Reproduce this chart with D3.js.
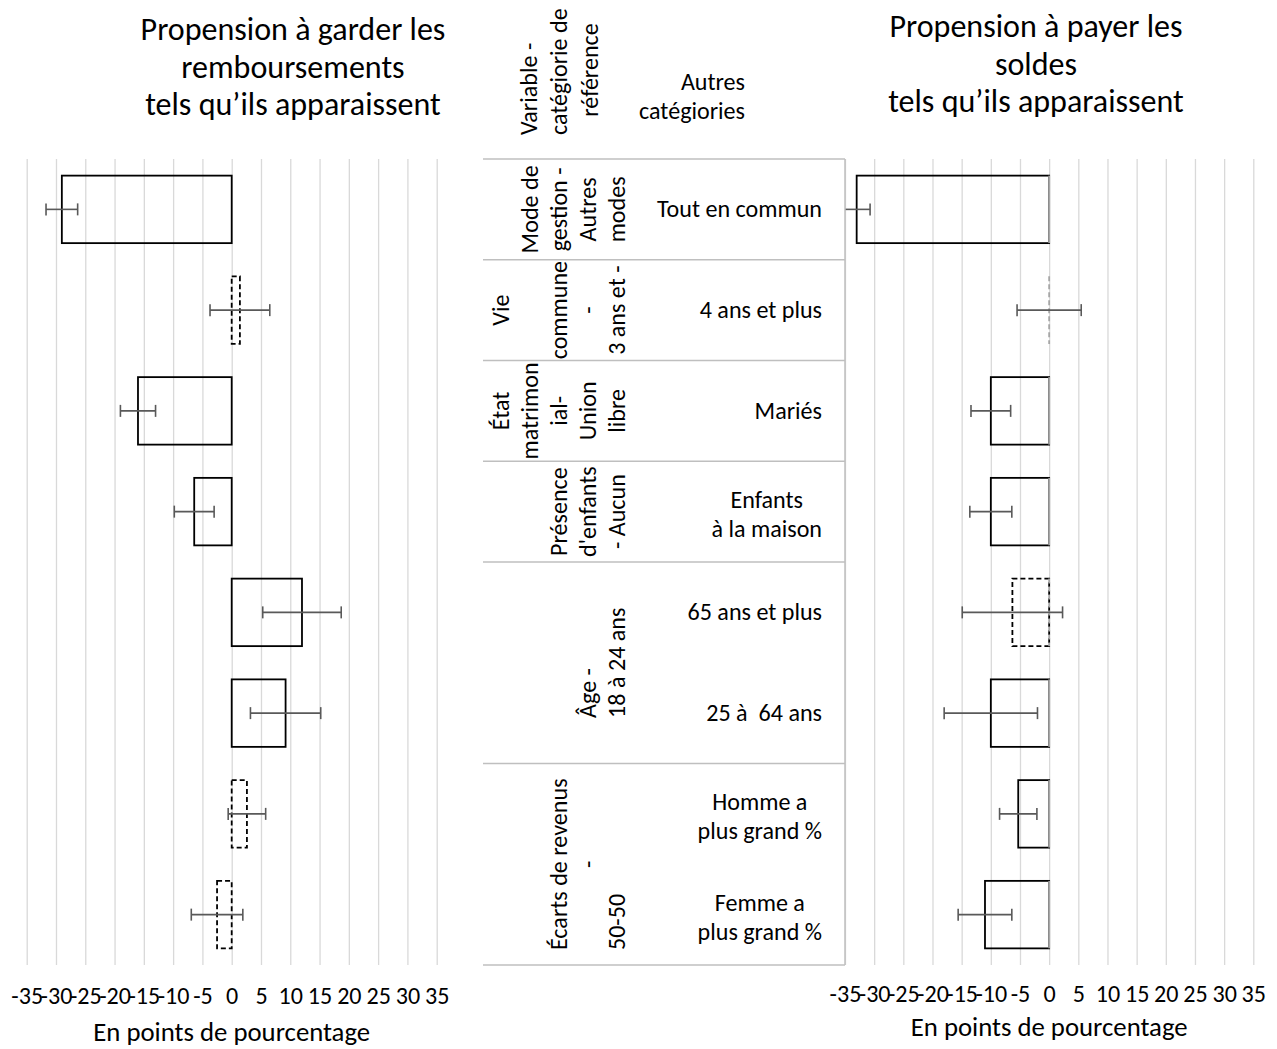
<!DOCTYPE html>
<html>
<head>
<meta charset="utf-8">
<script src="https://cdn.jsdelivr.net/npm/d3@7"></script>
<style>
body { margin: 0; background: #fff; }
text { fill: #000; white-space: pre; }
.grid line { stroke: #d9d9d9; stroke-width: 1.3px; }
.err { stroke: #595959; stroke-width: 1.6px; fill: none; }
.tbl { stroke: #bfbfbf; stroke-width: 1.5px; }
</style>
</head>
<body>
<script>
// data (points de pourcentage)
var rows = ["Tout en commun", "4 ans et plus", "Mariés", "Enfants\nà la maison",
            "65 ans et plus", "25 à  64 ans", "Homme a\nplus grand %", "Femme a\nplus grand %"];
var keepVal = [-29.0, 1.4, -16.0, -6.4, 12.0, 9.2, 2.6, -2.5];
var keepErr = [2.7, 5.1, 3.0, 3.4, 6.7, 6.0, 3.2, 4.4];
var keepSig = [true, false, true, true, true, true, false, false];
var payVal = [-33.0, 0.0, -10.0, -10.0, -6.3, -10.0, -5.3, -11.0];
var payErr = [2.3, 5.5, 3.4, 3.6, 8.6, 8.0, 3.2, 4.6];
var paySig = [true, false, true, true, false, true, true, true];
var ticks = [-35, -30, -25, -20, -15, -10, -5, 0, 5, 10, 15, 20, 25, 30, 35];

// reference variable groups (rotated text in first table column)
var groups = [
  {start: 0, span: 1, lines: ["Mode de", "gestion -", "Autres", "modes"]},
  {start: 1, span: 1, lines: ["Vie", "", "commune", "-", "3 ans et -"]},
  {start: 2, span: 1, lines: ["État", "matrimon", "ial-", "Union", "libre"]},
  {start: 3, span: 1, lines: ["Présence", "d'enfants", "- Aucun"]},
  {start: 4, span: 2, lines: ["Âge -", "18 à 24 ans"], align: ["start", "start"]},
  {start: 6, span: 2, lines: ["Écarts de revenus", "-", "50-50"], align: ["middle", "middle", "start"]}
];
var titleKeep = ["Propension à garder les", "remboursements", "tels qu’ils apparaissent"];
var titlePay = ["Propension à payer les", "soldes", "tels qu’ils apparaissent"];
var headVar = ["Variable -", "catégiorie de", "référence"];
var headCat = ["Autres", "catégiories"];
var axisTitle = "En points de pourcentage";

var W = 1277, H = 1049;
var FONT = "Carlito, Calibri, Lato, 'Noto Sans', sans-serif";
var svg = d3.select("body").append("svg").attr("width", W).attr("height", H)
    .style("font-family", FONT);

function fit(str, target) {
  var t = svg.append("text").style("font-size", "100px").text(str);
  var w = t.node().getComputedTextLength();
  t.remove();
  return 100 * target / w;
}
var fsBody = fit("Tout en commun", 165);
var fsTitle = fit("Propension à garder les", 305);
var fsAxis = fit(axisTitle, 277);
var lh = 29;

var yTop = 159, yBot = 965;
var y = d3.scaleBand().domain(d3.range(rows.length)).range([yTop, yBot])
    .paddingInner(0.33).paddingOuter(0.165);

function panel(x, vals, errs, sig, title, titlePos, tickY, axisY, zeroGray) {
  var g = svg.append("g");
  g.append("g").attr("class", "grid")
    .attr("transform", "translate(0," + yBot + ")")
    .call(d3.axisBottom(x).tickValues(ticks).tickSize(-(yBot - yTop)).tickFormat(""))
    .call(function(s) { s.select(".domain").remove(); });

  var lab = g.append("g").attr("transform", "translate(0," + yBot + ")")
    .call(d3.axisBottom(x).tickValues(ticks).tickSize(0).tickFormat(function(d) { return String(d); }));
  lab.select(".domain").remove();
  lab.selectAll("text").attr("y", tickY - yBot).attr("dy", null)
    .style("font-size", fsBody + "px").style("font-family", FONT).attr("fill", "#000");

  var x0 = x(0);
  g.append("g").selectAll("rect").data(vals).enter().append("rect")
    .attr("x", function(d) { return Math.min(x(d), x0); })
    .attr("width", function(d) { return Math.abs(x(d) - x0); })
    .attr("y", function(d, i) { return y(i); })
    .attr("height", y.bandwidth())
    .attr("fill", "none").attr("stroke", "#000").attr("stroke-width", 1.8)
    .attr("stroke-dasharray", function(d, i) { return sig[i] ? null : "5,3"; });

  if (zeroGray) {
    g.append("g").selectAll("line").data(vals).enter().append("line")
      .attr("x1", x0).attr("x2", x0)
      .attr("y1", function(d, i) { return y(i); })
      .attr("y2", function(d, i) { return y(i) + y.bandwidth(); })
      .attr("stroke", "#a6a6a6").attr("stroke-width", 1.8)
      .attr("stroke-dasharray", function(d, i) { return sig[i] ? null : "5,3"; });
  }

  var lo = x.domain()[0], hi = x.domain()[1];
  var eg = g.append("g").selectAll("g").data(vals).enter().append("g").attr("class", "err");
  eg.each(function(d, i) {
    var s = d3.select(this), cy = y(i) + y.bandwidth() / 2;
    var a = d - errs[i], b = d + errs[i];
    var ac = Math.max(a, lo), bc = Math.min(b, hi);
    s.append("line").attr("x1", x(ac)).attr("x2", x(bc)).attr("y1", cy).attr("y2", cy);
    if (a >= lo) s.append("line").attr("x1", x(a)).attr("x2", x(a)).attr("y1", cy - 6).attr("y2", cy + 6);
    if (b <= hi) s.append("line").attr("x1", x(b)).attr("x2", x(b)).attr("y1", cy - 6).attr("y2", cy + 6);
  });

  g.append("text").attr("x", x0).attr("y", axisY).attr("text-anchor", "middle")
    .style("font-size", fsAxis + "px").text(axisTitle);

  g.selectAll(".title").data(title).enter().append("text").attr("class", "title")
    .attr("x", titlePos.x).attr("y", function(d, i) { return titlePos.y + i * 37.5; })
    .attr("text-anchor", "middle").style("font-size", fsTitle + "px").text(function(d) { return d; });
}

var xKeep = d3.scaleLinear().domain([-35, 35]).range([26.7, 436.7]);
var xPay = d3.scaleLinear().domain([-35, 35]).range([845, 1253.3]);
panel(xKeep, keepVal, keepErr, keepSig, titleKeep, {x: 293, y: 40}, 1004, 1041, false);
panel(xPay, payVal, payErr, paySig, titlePay, {x: 1036, y: 37}, 1002, 1036, true);

// middle table
var tL = 483, tR = 845, lastSlot = 617, labRight = 822;
var tb = svg.append("g");
var bounds = [yTop].concat(groups.map(function(g) { return y.step() * (g.start + g.span) + yTop; }));
tb.selectAll("line.h").data(bounds).enter().append("line").attr("class", "tbl")
  .attr("x1", tL).attr("x2", tR).attr("y1", function(d) { return d; }).attr("y2", function(d) { return d; });
tb.append("line").attr("class", "tbl").attr("x1", tR).attr("x2", tR).attr("y1", yTop).attr("y2", yBot);

groups.forEach(function(gr) {
  var cy = yTop + y.step() * (gr.start + gr.span / 2);
  var n = gr.lines.length;
  var tmp = svg.append("text").style("font-size", fsBody + "px");
  var maxW = d3.max(gr.lines, function(l) { tmp.text(l); return tmp.node().getComputedTextLength(); });
  tmp.remove();
  gr.lines.forEach(function(l, i) {
    var al = gr.align ? gr.align[i] : "middle";
    var cx = lastSlot - (n - 1 - i) * lh;
    var py = al === "start" ? cy + maxW / 2 : cy;
    tb.append("text").attr("transform", "translate(" + cx + "," + py + ") rotate(-90)")
      .attr("text-anchor", al).attr("dy", "0.33em").style("font-size", fsBody + "px").text(l);
  });
});

rows.forEach(function(r, i) {
  var lines = r.split("\n");
  var tmp = svg.append("text").style("font-size", fsBody + "px");
  var maxW = d3.max(lines, function(l) { tmp.text(l); return tmp.node().getComputedTextLength(); });
  tmp.remove();
  var cy = y(i) + y.bandwidth() / 2 + (lines.length > 1 ? 3 : 0);
  lines.forEach(function(l, k) {
    tb.append("text").attr("x", labRight - maxW / 2)
      .attr("y", cy + (k - (lines.length - 1) / 2) * lh).attr("dy", "0.33em")
      .attr("text-anchor", "middle").style("font-size", fsBody + "px").text(l);
  });
});

// table header: first two lines start at the same bottom, last one centred
var headAlign = ["start", "start", "middle"];
headVar.forEach(function(l, i) {
  var py = headAlign[i] === "start" ? 135 : 70;
  tb.append("text").attr("transform", "translate(" + (529 + i * 30.5) + "," + py + ") rotate(-90)")
    .attr("text-anchor", headAlign[i]).attr("dy", "0.33em").style("font-size", fsBody + "px").text(l);
});
headCat.forEach(function(l, i) {
  tb.append("text").attr("x", 745).attr("y", 90 + i * 29).attr("text-anchor", "end")
    .style("font-size", fsBody + "px").text(l);
});
</script>
</body>
</html>
